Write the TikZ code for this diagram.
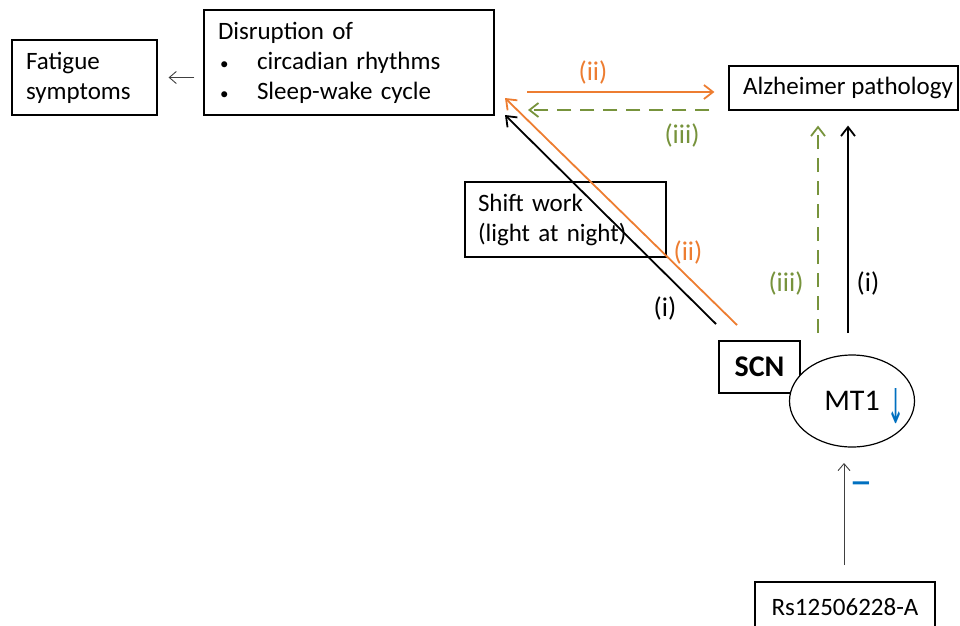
\documentclass[tikz,border=0pt]{standalone}
\usepackage{fontspec}
\setmainfont{Carlito}
\newfontfamily\symfont{DejaVu Sans}
\usetikzlibrary{arrows.meta,shapes.geometric}
\definecolor{orng}{HTML}{ED7D31}
\definecolor{grn}{HTML}{77933C}
\definecolor{blu}{HTML}{0070C0}
\definecolor{gry}{HTML}{404040}
\newcommand{\smbullet}{\makebox[39pt][l]{\hspace{2pt}\fontsize{17}{17}\selectfont\textbullet}}
\tikzset{
  boxnode/.style={draw, line width=1.2pt, inner sep=0pt},
  thinarrow/.style={draw=gry, line width=0.9pt, -{Straight Barb[length=7pt,width=12pt]}},
  blackarrow/.style={draw=black, line width=1.8pt, -{Straight Barb[length=9pt,width=14pt]}},
  orangearrow/.style={draw=orng, line width=1.8pt, -{Straight Barb[length=9pt,width=14pt]}},
  greenarrow/.style={draw=grn, line width=1.8pt, dash pattern=on 14pt off 9pt, -{Straight Barb[length=9pt,width=14pt]}},
  lbl/.style={inner sep=0pt, font=\fontsize{27}{30}\selectfont}
}
\begin{document}
\begin{tikzpicture}[x=1pt,y=-1pt, font=\fontsize{25}{30}\selectfont]
\useasboundingbox (0,0) rectangle (960,625);
\clip (0,0) rectangle (960,625);
% boxes
\node[boxnode, minimum width=145pt, minimum height=75pt, text width=117pt, align=left, inner xsep=14pt] (fat) at (84.5,77.5) {Fatigue\\symptoms};
\node[boxnode, minimum width=290pt, minimum height=105pt, text width=262pt, align=left, inner xsep=14pt] (dis) at (349,62.5) {Disruption of\\\smbullet circadian rhythms\\\smbullet Sleep-wake cycle};
\node[boxnode, minimum width=229pt, minimum height=44pt] (alz) at (843.5,88) {\hspace{9pt}Alzheimer pathology};
\node[boxnode, minimum width=201pt, minimum height=75pt, text width=175pt, align=left, inner xsep=13pt] (shift) at (565.5,219.5) {Shift work\\(light at night)};
\node[boxnode, minimum width=81pt, minimum height=52pt, font=\fontsize{30}{30}\selectfont\bfseries] (scn) at (759.5,367) {SCN};
\node[draw, ellipse, line width=1.2pt, fill=white, inner sep=0pt, minimum width=125pt, minimum height=92pt, font=\fontsize{30}{30}\selectfont] (mt1) at (852,401) {MT1\rlap{\hspace{8pt}\raisebox{-13pt}[0pt][0pt]{\color{blu}\scalebox{0.85}[2]{\symfont\fontsize{24}{24}\selectfont ↓}}}};
\node[boxnode, minimum width=180pt, minimum height=50pt] (rs) at (845,607) {Rs12506228-A};
% fatigue arrow
\draw[thinarrow, shorten <=9pt, shorten >=11pt] (dis.west |- fat.east) -- (fat.east);
% Rs arrow
\coordinate (rsTop) at (844,565);
\draw[thinarrow] (rsTop) -- (rsTop |- 0,463);
\node[inner sep=0pt, text=blu, font=\symfont\fontsize{26}{26}\selectfont\bfseries] (minus) at (861,487) {−};
% horizontal arrows
\coordinate (iiS) at (527,92);
\draw[orangearrow, shorten >=14pt] (iiS) -- (iiS -| alz.west);
\coordinate (iiiE) at (528,110);
\draw[greenarrow, shorten <=19pt] (iiiE -| alz.west) -- (iiiE);
\node[lbl, text=orng] (lii1) at (593,72) {(ii)};
\node[lbl, text=grn] (liii1) at (682,135) {(iii)};
% vertical arrows
\coordinate (gB) at (818,333);
\coordinate (bB) at (848,333);
\draw[greenarrow, shorten >=15pt] (gB) -- (gB |- alz.south);
\draw[blackarrow, shorten >=15pt] (bB) -- (bB |- alz.south);
\node[lbl, text=grn] (liii2) at (786,283) {(iii)};
\node[lbl] (li2) at (868,283) {(i)};
% diagonal arrows
\coordinate (dbS) at (716,324);
\coordinate (dbE) at (505,115);
\coordinate (doS) at (737,325);
\coordinate (doE) at (505,98);
\draw[blackarrow] (dbS) -- (dbE);
\draw[orangearrow] (doS) -- (doE);
\node[lbl, text=orng] (lii2) at (688,252) {(ii)};
\node[lbl] (li1) at (665,308) {(i)};
\end{tikzpicture}
\end{document}
